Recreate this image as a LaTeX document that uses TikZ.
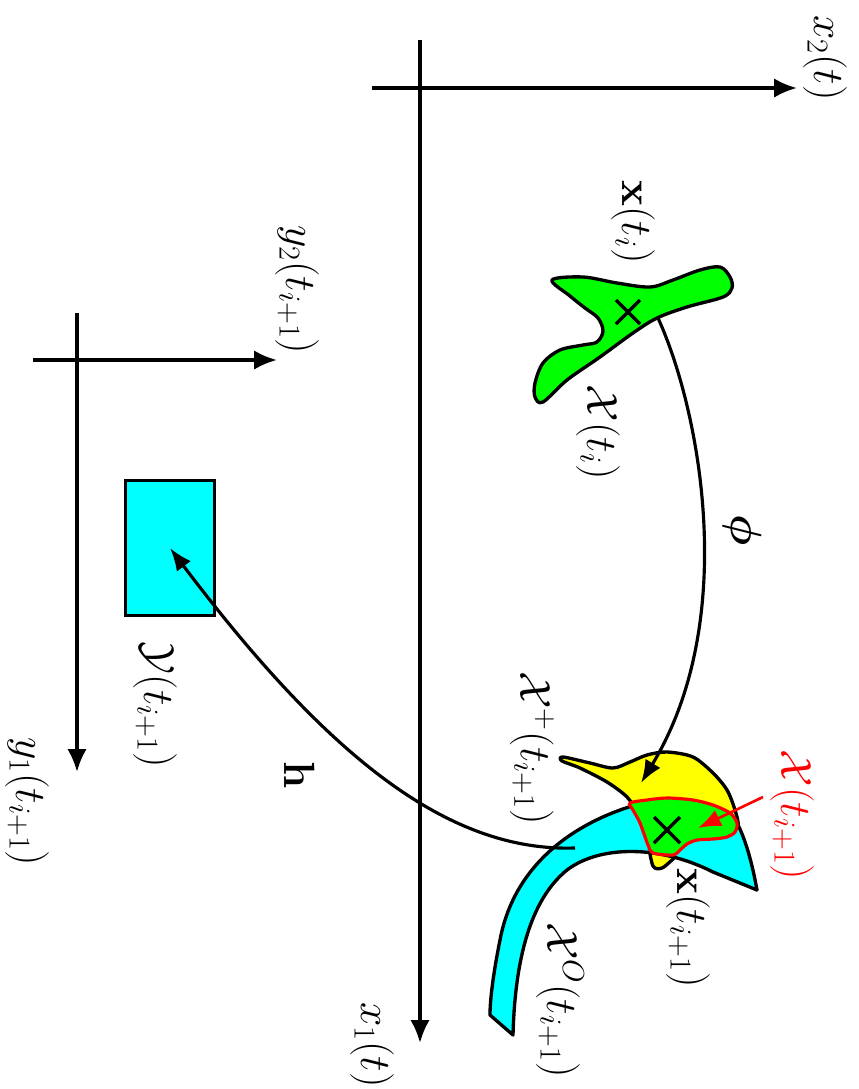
\documentclass[tikz,border=0pt]{standalone}
\usepackage{bm}
\usetikzlibrary{arrows.meta,calc}
\definecolor{gfill}{RGB}{0,255,0}
\definecolor{yfill}{RGB}{255,255,0}
\definecolor{cfill}{RGB}{0,255,255}
\definecolor{rline}{RGB}{255,0,0}
\begin{document}
\begin{tikzpicture}[x=0.02cm,y=-0.02cm,
  axis/.style={line width=2pt,-{Latex[length=13pt,width=11pt]}},
  blob/.style={draw=black,line width=1.9pt,line join=round},
  lbl/.style={rotate=-90,font=\fontsize{24}{28}\selectfont,inner sep=1pt},
  crossmark/.style={line width=1.9pt},
  conn/.style={line width=1.8pt,-{Latex[length=13pt,width=10pt]}}
]
\useasboundingbox (0,0) rectangle (859,1089);

% ---------- axes x ----------
\coordinate (x2s) at (372,88);
\coordinate (x2e) at (797,88);
\coordinate (x1s) at (420,40);
\coordinate (x1e) at (420,1043);
\draw[axis] (x2s) -- (x2e);
\draw[axis] (x1s) -- (x1e);
\node[lbl] (lx2) at (825,58) {$x_2(t)$};
\node[lbl] (lx1) at (372,1045) {$x_1(t)$};

% ---------- axes y ----------
\coordinate (y2s) at (33,360);
\coordinate (y2e) at (277,360);
\coordinate (y1s) at (77,313);
\coordinate (y1e) at (77,772);
\draw[axis] (y2s) -- (y2e);
\draw[axis] (y1s) -- (y1e);
\node[lbl] (ly2) at (297,290) {$y_2(t_{i+1})$};
\node[lbl] (ly1) at (27,802) {$y_1(t_{i+1})$};

% ---------- measurement set ----------
\node[draw=black,fill=cfill,line width=1.9pt,minimum width=1.78cm,minimum height=2.7cm,inner sep=0pt] (Yrect) at (170,548) {};
\node[lbl] (lY) at (155,705) {$\mathcal{Y}(t_{i+1})$};

% ---------- X(t_i) ----------
\filldraw[blob,fill=gfill] plot[smooth cycle,tension=0.55] coordinates {
 (552,280) (583,277) (617,283) (650,287) (673,280) (700,270) (720,267) (730,277) (732,288) (723,297)
 (687,307) (657,318) (633,333) (600,357) (567,380) (543,402) (535,397) (535,383) (543,363) (560,350)
 (583,345) (597,342) (603,331) (598,318) (585,308) (570,296)};
\coordinate (c1) at (628,312);
\draw[crossmark] ($(c1)+(-12,-12)$) -- ($(c1)+(12,12)$);
\draw[crossmark] ($(c1)+(-12,12)$) -- ($(c1)+(12,-12)$);
\node[lbl] (lxi) at (633,222) {$\mathbf{x}(t_i)$};
\node[lbl] (lXi) at (598,432) {$\mathcal{X}(t_i)$};

% ---------- X^+ (yellow) ----------
\filldraw[blob,fill=yfill] plot[smooth cycle,tension=0.5] coordinates {
 (563,757) (590,763) (613,768) (630,762) (647,755) (667,752) (693,757) (713,773) (727,790) (735,810)
 (738,827) (727,840) (687,847) (672,860) (662,868) (653,866) (647,840) (637,813) (627,797) (607,782)
 (580,768) (562,761)};

% ---------- X^O (cyan) ----------
\filldraw[blob,fill=cfill] (632,806)
  .. controls (580,822) and (515,860) .. (500,940)
  .. controls (493,975) and (490,1000) .. (490,1015)
  -- (513,1035)
  .. controls (515,960) and (530,900) .. (567,870)
  .. controls (600,845) and (660,845) .. (713,872)
  -- (757,890)
  .. controls (752,862) and (745,838) .. (737,823)
  -- cycle;

% ---------- X(t_{i+1}) (green, red outline) ----------
\filldraw[draw=rline,line width=1.8pt,fill=gfill] plot[smooth cycle,tension=0.5] coordinates {
 (630,803) (647,800) (667,798) (693,800) (713,805) (730,813) (737,823) (735,832) (727,837) (713,839)
 (697,840) (687,844) (680,850) (673,855) (653,853) (648,845) (640,823) (633,810)};
\coordinate (c2) at (667,830);
\draw[crossmark] ($(c2)+(-13,-13)$) -- ($(c2)+(13,13)$);
\draw[crossmark] ($(c2)+(-13,13)$) -- ($(c2)+(13,-13)$);

\node[lbl] (lXp) at (532,748) {$\mathcal{X}^{+}(t_{i+1})$};
\node[lbl] (lXo) at (560,1000) {$\mathcal{X}^{O}(t_{i+1})$};
\node[lbl] (lxn) at (688,928) {$\mathbf{x}(t_{i+1})$};
\node[lbl,text=rline] (lXn) at (792,815) {$\mathcal{X}(t_{i+1})$};

% ---------- connectors ----------
\coordinate (phiS) at (658,318);
\coordinate (phiE) at (641,783);
\draw[conn] (phiS) .. controls (700,410) and (740,620) .. (phiE);
\node[lbl] (lphi) at (742,530) {$\bm{\phi}$};

\coordinate (hS) at (575,848);
\draw[conn] (hS) .. controls (450,852) and (330,760) .. (Yrect.center);
\node[lbl] (lh) at (300,775) {$\mathbf{h}$};

\coordinate (rS) at (763,797);
\coordinate (rE) at (698,828);
\draw[conn,draw=rline,fill=rline,line width=1.5pt] (rS) -- (rE);
\end{tikzpicture}
\end{document}
